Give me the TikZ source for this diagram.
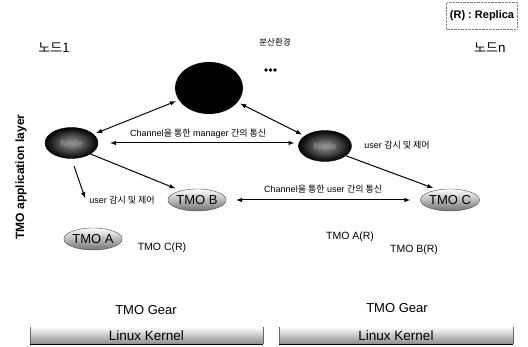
\documentclass[tikz,border=0pt]{standalone}
\usepackage{fontspec}
\setmainfont{Liberation Sans}
\newfontfamily\kr{Noto Sans CJK KR}
\usetikzlibrary{shapes.geometric}

\begin{document}
\begin{tikzpicture}[x=1pt, y=-1pt,
  tmo/.style={ellipse, draw=black!70, top color=white, bottom color=black!55,
    minimum width=54pt, minimum height=22pt, inner sep=0pt,
    font=\fontsize{13}{13}\selectfont},
  nodeball/.style={ellipse, draw=black, inner color=black!40, outer color=black,
    minimum width=53pt, minimum height=31pt, inner sep=0pt, text=black!45,
    font=\fontsize{9}{9}\selectfont\bfseries},
  lbl/.style={font=\fontsize{9}{9}\selectfont},
  repl/.style={font=\fontsize{10.5}{10.5}\selectfont},
  gear/.style={font=\fontsize{13}{13}\selectfont},
  kernel/.style={rectangle, top color=white, bottom color=black!45,
    minimum width=233pt, minimum height=17pt, inner sep=0pt,
    font=\fontsize{13.5}{13.5}\selectfont},
  link/.style={latex-latex, line width=1pt},
  ctrl/.style={-latex, line width=1pt}]

  \useasboundingbox (0,0) rectangle (528,347);

  % --- legend and headers ---
  \node[draw=black!50, densely dotted, minimum width=71pt, minimum height=27pt,
    font=\fontsize{11}{11}\selectfont\bfseries] (legend) at (482,16) {(R) : Replica};
  \node[font=\kr\fontsize{13}{13}\selectfont] (host1) at (54,48) {노드1};
  \node[font=\kr\fontsize{13}{13}\selectfont] (hostn) at (490,48) {노드n};
  \node[font=\kr\fontsize{8.5}{8.5}\selectfont] (env) at (275,42) {분산환경};
  \foreach \i in {0,1,2}
    \fill (266+\i*4.5,70) circle (1.8);
  \node[rotate=90, font=\fontsize{12}{12}\selectfont\bfseries] (layer) at (21,177)
    {TMO application layer};

  % --- managers ---
  \node[ellipse, fill=black, minimum width=68pt, minimum height=52pt] (mgr) at (209,88) {};
  \node[nodeball] (node1) at (71.5,143) {Node};
  \node[nodeball] (noden) at (325,146) {Node};

  % --- objects ---
  \node[tmo] (tmoB) at (197,200) {TMO B};
  \node[tmo] (tmoA) at (93,239) {TMO A};
  \node[tmo] (tmoC) at (450,200) {TMO C};
  \node[repl] (repC) at (162,248) {TMO C(R)};
  \node[repl] (repA) at (350,237) {TMO A(R)};
  \node[repl] (repB) at (414,250) {TMO B(R)};

  \node[lbl] (ctl1) at (122,200) {user {\kr 감시 및 제어}};
  \node[lbl] (ctln) at (397,145) {user {\kr 감시 및 제어}};

  % --- connectors ---
  \draw[link, shorten <=3pt, shorten >=3pt] (node1) -- (mgr);
  \draw[link, shorten <=3pt, shorten >=3pt] (mgr) -- (noden);
  \draw[link, shorten <=12pt, shorten >=4pt] (node1.east) -- (noden.west |- node1.east)
    node[midway, above=1pt, lbl] {Channel{\kr 을 통한} manager {\kr 간의 통신}};
  \draw[ctrl, shorten <=8pt, shorten >=2pt] (node1.south) -- (ctl1.west);
  \draw[ctrl, shorten >=6pt] (node1.-30) -- (tmoB.150);
  \draw[ctrl, shorten >=5pt] (noden.-25) -- (tmoC.140);
  \draw[link, shorten <=10pt, shorten >=10pt] (tmoB.east) -- (tmoC.west)
    node[midway, above=3pt, lbl] {Channel{\kr 을 통한} user {\kr 간의 통신}};

  % --- platform ---
  \node[gear] (gear1) at (146,310) {TMO Gear};
  \node[gear] (gear2) at (397,308) {TMO Gear};
  \node[kernel] (kern1) at (146.5,335.5) {Linux Kernel};
  \node[kernel, minimum width=234pt] (kern2) at (396,335.5) {Linux Kernel};
  \foreach \k in {kern1,kern2} {
    \draw[line width=1.2pt] (\k.south west) -- (\k.south east);
    \draw[black!60] (\k.north west) -- (\k.south west);
    \draw[black!60] (\k.north east) -- (\k.south east);
  }

\end{tikzpicture}
\end{document}
